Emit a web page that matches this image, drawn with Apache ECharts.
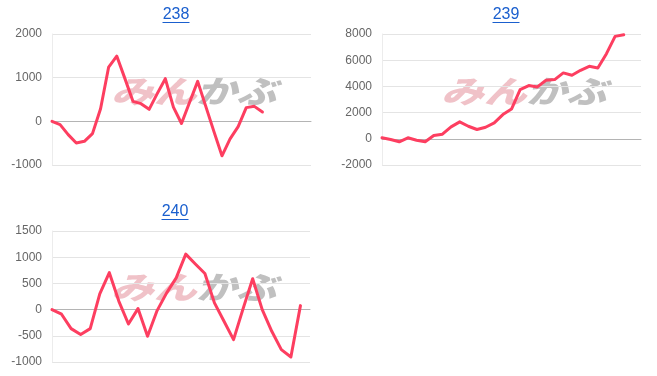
<!DOCTYPE html>
<html>
<head>
<meta charset="utf-8">
<script src="https://cdn.jsdelivr.net/npm/echarts@6/dist/echarts.min.js"></script>
<style>
html,body{margin:0;padding:0;background:#fff;}
#c{width:657px;height:376px;}
</style>
</head>
<body>
<div id="c"></div>
<script>
// ---- data ----
const titles = ['238', '239', '240'];
const cats238 = ['1','2','3','4','5','6','7','8','9','10','11','12','13','14','15','16','17','18','19','20','21','22','23','24','25','26','27','28','29','30','31','32','33'];
const cats239 = ['1','2','3','4','5','6','7','8','9','10','11','12','13','14','15','16','17','18','19','20','21','22','23','24','25','26','27','28','29','30','31'];
const cats240 = ['1','2','3','4','5','6','7','8','9','10','11','12','13','14','15','16','17','18','19','20','21','22','23','24','25','26','27','28'];
const vals238 = [0, -75, -305, -497, -458, -281, 290, 1243, 1494, 984, 458, 405, 275, 634, 977, 327, -50, 435, 915, 343, -230, -790, -400, -120, 314, 343, 213];
const vals239 = [76, -53, -229, 76, -107, -229, 251, 350, 914, 1295, 960, 709, 884, 1219, 1851, 2270, 3756, 4061, 3962, 4465, 4518, 5029, 4846, 5227, 5531, 5410, 6499, 7817, 7947];
const vals240 = [0, -88, -363, -477, -363, 300, 705, 158, -275, 19, -510, -19, 319, 605, 1058, 870, 690, 128, -223, -573, 19, 590, 0, -414, -763, -905, 76];
const yTicks238 = [-1000, 0, 1000, 2000];
const yTicks239 = [-2000, 0, 2000, 4000, 6000, 8000];
const yTicks240 = [-1000, -500, 0, 500, 1000, 1500];

// ---- layout ----
const grids = [
  {left: 52, top: 34, width: 259, height: 131},
  {left: 382, top: 34, width: 259, height: 131},
  {left: 52, top: 231, width: 258, height: 131}
];
const cats = [cats238, cats239, cats240];
const vals = [vals238, vals239, vals240];
const ticks = [yTicks238, yTicks239, yTicks240];
const titlePos = [{x: 176, y: 7}, {x: 506, y: 7}, {x: 175, y: 204}];
const wm = [{x: 111, y: 76}, {x: 441, y: 76}, {x: 111, y: 272}];

const LINK = '#1a5fce';
const FONT = '"Liberation Sans", Arial, sans-serif';

const chart = echarts.init(document.getElementById('c'), null, {renderer: 'canvas'});

const xAxis = [], yAxis = [], series = [], title = [], graphic = [];
for (let i = 0; i < 3; i++) {
  const t = ticks[i];
  xAxis.push({
    type: 'category', gridIndex: i, data: cats[i], boundaryGap: false,
    axisLabel: {show: false}, axisTick: {show: false},
    axisLine: {show: true, onZero: true, lineStyle: {color: '#b4b4b4', width: 1}},
    splitLine: {show: false}
  });
  yAxis.push({
    type: 'value', gridIndex: i, min: t[0], max: t[t.length - 1],
    interval: t[1] - t[0],
    axisLine: {show: true, lineStyle: {color: '#ececec', width: 1}},
    axisTick: {show: false},
    axisLabel: {color: '#666', fontSize: 12, fontFamily: FONT, margin: 10,
      formatter: function (v) { return String(v); }},
    splitLine: {show: true, lineStyle: {color: '#e4e4e4', width: 1}}
  });
  series.push({
    type: 'line', xAxisIndex: i, yAxisIndex: i, data: vals[i],
    symbol: 'none', smooth: false, z: 5,
    lineStyle: {color: '#fd3e60', width: 3, join: 'round', cap: 'round'}
  });
  title.push({
    text: titles[i], left: titlePos[i].x, top: titlePos[i].y, textAlign: 'center', padding: 0,
    textStyle: {color: LINK, fontSize: 16, fontWeight: 'normal', fontFamily: FONT}
  });
  graphic.push({
    type: 'line', z: 10,
    shape: {x1: titlePos[i].x - 13.5, y1: titlePos[i].y + 15.5, x2: titlePos[i].x + 13.5, y2: titlePos[i].y + 15.5},
    style: {stroke: LINK, lineWidth: 1}
  });
  graphic.push({
    type: 'text', z: 0, x: wm[i].x, y: wm[i].y, scaleX: 1.38,
    style: {text: 'みん', fill: 'rgba(222,120,132,0.45)', font: 'italic 900 31px "Noto Sans CJK JP"', textVerticalAlign: 'top'}
  });
  graphic.push({
    type: 'text', z: 0, x: wm[i].x + 85, y: wm[i].y, scaleX: 1.3,
    style: {text: 'かぶ', fill: 'rgba(150,150,150,0.6)', font: 'italic 900 31px "Noto Sans CJK JP"', textVerticalAlign: 'top'}
  });
}

chart.setOption({
  animation: false,
  backgroundColor: '#fff',
  title: title,
  grid: grids,
  xAxis: xAxis,
  yAxis: yAxis,
  series: series,
  graphic: graphic
});
</script>
</body>
</html>
